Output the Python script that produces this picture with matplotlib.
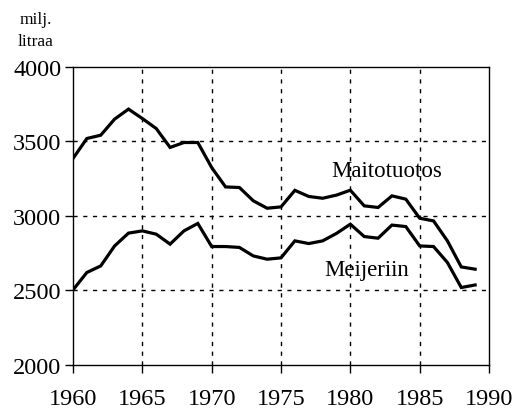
import matplotlib
matplotlib.use("Agg")
import matplotlib.pyplot as plt

years = list(range(1960, 1990))
maitotuotos = [3384, 3518, 3540, 3648, 3715, 3652, 3585, 3458, 3491, 3491,
               3323, 3193, 3189, 3100, 3050, 3059, 3170, 3129, 3117, 3138,
               3171, 3066, 3055, 3133, 3111, 2983, 2965, 2831, 2656, 2641]
meijeriin = [2502, 2619, 2663, 2797, 2883, 2898, 2876, 2809, 2898, 2948,
             2793, 2793, 2787, 2730, 2708, 2717, 2831, 2813, 2831, 2881,
             2943, 2860, 2849, 2937, 2927, 2797, 2793, 2686, 2518, 2535]
xticks = [1960, 1965, 1970, 1975, 1980, 1985, 1990]
yticks = [2000, 2500, 3000, 3500, 4000]

plt.rcParams['font.family'] = ['Liberation Serif', 'DejaVu Serif']

fig = plt.figure(figsize=(5.23, 4.10), dpi=100)
ax = fig.add_axes([0.1396, 0.108, 0.935 - 0.1396, 0.835 - 0.108])

ax.plot(years, maitotuotos, color='black', lw=2.3, solid_joinstyle='miter')
ax.plot(years, meijeriin, color='black', lw=2.3, solid_joinstyle='miter')

ax.set_xlim(1960, 1990)
ax.set_ylim(2000, 4000)
ax.set_xticks(xticks)
ax.set_yticks(yticks)
ax.tick_params(axis='both', direction='out', length=5.5, width=1, labelsize=17.5, colors='black')
ax.tick_params(axis='x', pad=11)
ax.tick_params(axis='y', pad=3)

for x in xticks[1:-1]:
    ax.axvline(x, color='black', lw=1, ls=(0, (3, 4)), zorder=0)
for y in yticks[1:-1]:
    ax.axhline(y, color='black', lw=1, ls=(0, (3, 4)), zorder=0)

for s in ax.spines.values():
    s.set_linewidth(1)
    s.set_color('black')

ax.text(1982.6, 3300, 'Maitotuotos', fontsize=16.5, ha='center', va='center')
ax.text(1981.2, 2641, 'Meijeriin', fontsize=16.5, ha='center', va='center')

fig.text(36 / 523, 1 - 20 / 410, 'milj.', fontsize=12.5, ha='center', va='center')
fig.text(36 / 523, 1 - 42 / 410, 'litraa', fontsize=12.5, ha='center', va='center')

fig.savefig('out.png', dpi=100)
